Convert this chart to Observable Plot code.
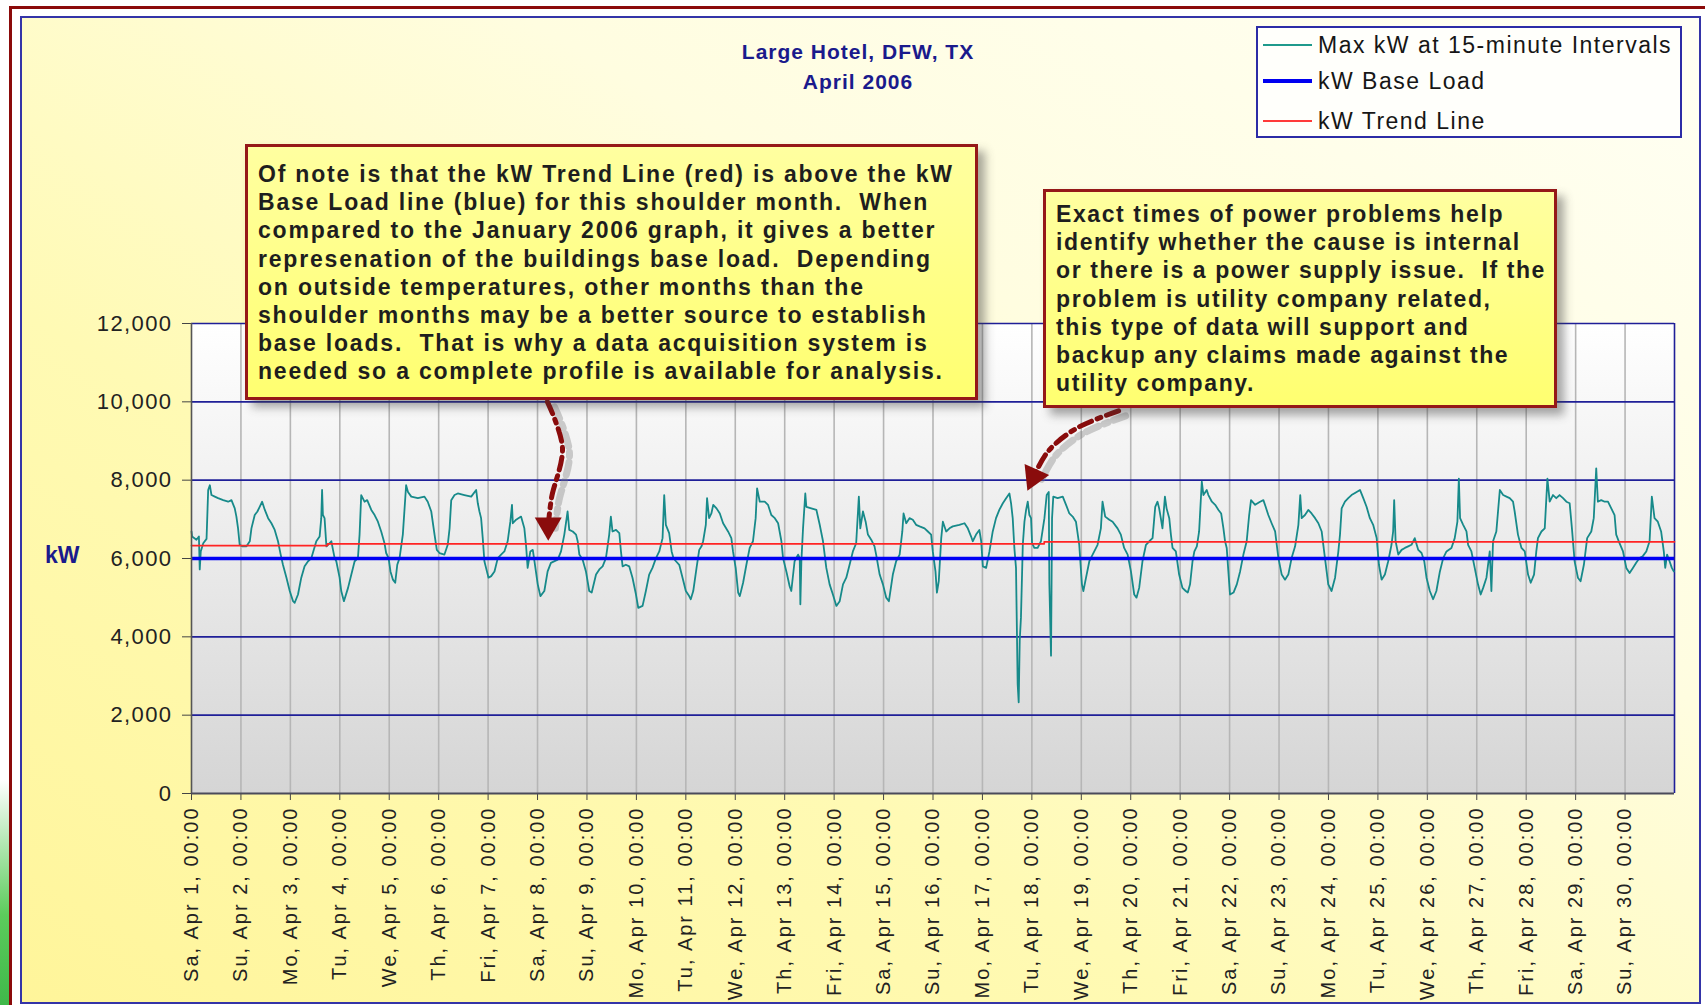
<!DOCTYPE html>
<html>
<head>
<meta charset="utf-8">
<script src="https://cdn.jsdelivr.net/npm/d3@7"></script>
<script src="https://cdn.jsdelivr.net/npm/@observablehq/plot@0.6"></script>
<style>
  html, body { margin: 0; padding: 0; background: #ffffff; }
  #page { position: relative; width: 1705px; height: 1005px; overflow: hidden; background: #ffffff;
          font-family: "Liberation Sans", Arial, sans-serif; }
  #green { position: absolute; left: 0; top: 780px; width: 10px; height: 225px;
           background: linear-gradient(to bottom, #ffffff, #5ccc5c 60%, #3fb84a); }
  #redframe { position: absolute; left: 9px; top: 6px; width: 1720px; height: 1020px;
              border-top: 3px solid #8b0a0a; border-left: 3px solid #8b0a0a; box-sizing: border-box; }
  #inner { position: absolute; left: 20px; top: 16px; width: 1681px; height: 988px; box-sizing: border-box;
           border: 2px solid #3434a8;
           background: linear-gradient(to top right, #fff59a 0%, #fffab4 35%, #fffde0 65%, #fffff4 100%); }
  #chart { position: absolute; left: 0; top: 0; }
  .title { position: absolute; left: 658px; width: 400px; text-align: center; color: #1a1a8c;
           font-weight: bold; font-size: 21px; letter-spacing: 1px; white-space: nowrap; }
  .kwlabel { position: absolute; left: 45px; top: 542px; color: #1a1a8c; font-weight: bold; font-size: 23px; }
  .note { position: absolute; box-sizing: border-box; border: 3px solid #951818;
          background: linear-gradient(to bottom, #ffffa0, #ffff70);
          box-shadow: 7px 7px 9px rgba(60,60,60,0.45);
          color: #1e1e1e; font-weight: bold; font-size: 23px; letter-spacing: 1.6px;
          line-height: 28.2px; white-space: pre; z-index: 3; }
  #legend { position: absolute; left: 1256px; top: 26px; width: 426px; height: 112px; box-sizing: border-box;
            border: 2px solid #2c2ca6; background: #fffffb; z-index: 3; }
  .lg { position: absolute; left: 60px; font-size: 23px; letter-spacing: 1.5px; color: #161616; white-space: nowrap; }
  .sw { position: absolute; left: 5px; width: 49px; }
  svg g[aria-label="y-axis tick label"] text { letter-spacing: 1.4px; fill: #222; }
  svg g[aria-label="x-axis tick label"] text { letter-spacing: 2px; fill: #222; }
</style>
</head>
<body>
<div id="page">
  <div id="green"></div>
  <div id="redframe"></div>
  <div id="inner"></div>
  <div id="chart"></div>
  <div class="title" style="top:40px">Large Hotel, DFW, TX</div>
  <div class="title" style="top:70px">April 2006</div>
  <div class="kwlabel">kW</div>
  <div class="note" style="left:245px;top:144px;width:733px;height:256px;padding:13px 0 0 10px;letter-spacing:1.8px"></div>
  <div class="note" style="left:1043px;top:189px;width:514px;height:219px;padding:8px 0 0 10px"></div>
  <div id="legend"></div>
</div>
<script>
// ---------- data ----------
const titleLines = ["Large Hotel, DFW, TX", "April 2006"];
const seriesNames = ["Max kW at 15-minute Intervals", "kW Base Load", "kW Trend Line"];

const dayLabels = [
  "Sa, Apr 1, 00:00", "Su, Apr 2, 00:00", "Mo, Apr 3, 00:00", "Tu, Apr 4, 00:00", "We, Apr 5, 00:00",
  "Th, Apr 6, 00:00", "Fri, Apr 7, 00:00", "Sa, Apr 8, 00:00", "Su, Apr 9, 00:00", "Mo, Apr 10, 00:00",
  "Tu, Apr 11, 00:00", "We, Apr 12, 00:00", "Th, Apr 13, 00:00", "Fri, Apr 14, 00:00", "Sa, Apr 15, 00:00",
  "Su, Apr 16, 00:00", "Mo, Apr 17, 00:00", "Tu, Apr 18, 00:00", "We, Apr 19, 00:00", "Th, Apr 20, 00:00",
  "Fri, Apr 21, 00:00", "Sa, Apr 22, 00:00", "Su, Apr 23, 00:00", "Mo, Apr 24, 00:00", "Tu, Apr 25, 00:00",
  "We, Apr 26, 00:00", "Th, Apr 27, 00:00", "Fri, Apr 28, 00:00", "Sa, Apr 29, 00:00", "Su, Apr 30, 00:00"
];
const dayTicks = [0,24,48,72,96,120,144,168,192,216,240,264,288,312,336,360,384,408,432,456,480,504,528,552,576,600,624,648,672,696];
const yTicks = [0, 2000, 4000, 6000, 8000, 10000, 12000];
const hoursInMonth = 720;
const kwMax = 12000;

// [hours since Apr 1 00:00, max kW]
const kwApr1to10 = [
  [0,6690],[0.3,6560],[2.4,6480],[3.6,6560],[4.0,5720],[4.5,6180],[5.7,6390],[7.3,6500],[8.1,7750],[8.9,7870],
  [9.7,7620],[11.3,7580],[12.9,7540],[15.4,7490],[17.8,7450],[19.4,7490],[21.0,7280],[21.8,7070],[22.6,6770],[23.4,6350],
  [24.6,6310],[26.7,6310],[28.3,6440],[29.1,6770],[30.7,7110],[32.0,7200],[33.1,7320],[34.3,7450],[35.6,7240],[37.2,7030],
  [38.8,6900],[40.4,6730],[42.0,6440],[43.3,6100],[44.4,5840],[46.1,5510],[47.7,5170],[49.3,4910],[50.1,4870],[51.7,5080],
  [53.3,5510],[54.9,5800],[56.6,5930],[58.2,6010],[60.6,6440],[62.2,6560],[63.0,7030],[63.4,7750],[63.8,7110],[64.6,7030],
  [65.5,6310],[66.3,6350],[67.9,6440],[68.7,6220],[69.5,6010],[70.3,5930],[71.9,5510],[72.7,5170],[74.0,4910],[76.0,5250],
  [77.6,5590],[79.2,5930],[80.8,6010],[81.6,6610],[82.4,7620],[84.0,7450],[85.3,7490],[87.3,7240],[88.9,7110],[90.5,6940],
  [92.1,6690],[93.7,6390],[94.5,6140],[95.7,6010],[96.6,5670],[97.8,5460],[98.9,5380],[99.9,5840],[101.0,6010],[102.6,6610],
  [104.2,7870],[105.1,7700],[106.7,7580],[109.9,7540],[113.1,7580],[114.7,7450],[116.4,7200],[118.0,6610],[119.1,6220],[120.4,6140],
  [122.8,6100],[124.4,6350],[125.3,6770],[126.1,7490],[127.7,7620],[129.3,7660],[132.5,7620],[135.8,7580],[138.2,7750],[139.0,7410],
  [139.8,7200],[140.6,7030],[141.4,6520],[142.2,5930],[143.0,5760],[144.2,5510],[145.5,5550],[147.1,5670],[148.7,6010],[150.3,6100],
  [151.9,6180],[153.5,6440],[154.8,6940],[155.6,7370],[156.0,6900],[157.6,6990],[160.0,7070],[161.6,6770],[162.4,6350],[163.2,5760],
  [164.5,6180],[165.7,6220],[166.5,5930],[168.1,5340],[169.4,5040],[171.3,5170],[172.9,5670],[174.5,5890],[177.8,5970],[179.4,6180],
  [181.0,6610],[182.6,7200],[183.4,6730],[185.1,6690],[186.7,6610],[187.5,6440],[188.3,6100],[189.9,5970],[191.5,5670],[193.1,5170],
  [194.3,5130],[196.4,5590],[198.0,5720],[199.6,5800],[201.2,6010],[202.8,6610],[203.6,7070],[204.4,6690],[206.1,6730],[207.7,6650],
  [208.5,6180],[209.3,5800],[210.9,5840],[212.5,5800],[214.1,5510],[215.8,5080],[216.9,4740],[219.0,4790],[220.6,5170],[222.2,5590],
  [223.8,5760],[225.5,6010],[227.1,6180],[228.7,6520],[229.5,7620],[230.3,6860],[231.9,6650],[233.1,6180],[234.0,6010],[235.2,5930],
  [236.8,5840],[238.4,5510],[240.0,5170]
];
const kwApr11to20 = [
  [241.6,5040],[242.4,4960],[243.6,5170],[245.2,5760],[246.5,6220],[247.6,6310],[248.4,6440],[249.7,6860],[250.3,7540],[251.3,7030],
  [252.4,7150],[253.3,7370],[254.9,7280],[256.5,7150],[258.1,6900],[260.5,6690],[262.1,6520],[262.9,6180],[264.2,5760],[265.4,5130],
  [266.2,5040],[267.8,5380],[269.4,5840],[271.0,6270],[272.6,6440],[273.9,7030],[274.6,7790],[275.9,7450],[278.3,7450],[279.9,7370],
  [281.5,7110],[283.2,7030],[284.8,6900],[286.4,6440],[287.2,6010],[288.8,5670],[290.4,5290],[291.2,5170],[292.8,5930],[294.5,6100],
  [295.3,6010],[295.6,4830],[296.1,5930],[296.9,6770],[298.0,7660],[298.5,7320],[300.9,7280],[303.4,7240],[305.0,6860],[306.6,6440],
  [308.2,5760],[309.8,5340],[311.4,5080],[313.1,4790],[314.7,4910],[316.3,5340],[317.9,5510],[319.5,5840],[321.1,6180],[322.7,6390],
  [324.0,7580],[324.7,6770],[326.0,7200],[327.3,6940],[328.4,6610],[330.0,6480],[331.6,6310],[332.4,6100],[334.1,5590],[335.7,5340],
  [337.3,5000],[338.6,4910],[340.5,5590],[342.1,5930],[343.8,6100],[345.1,6690],[345.7,7150],[347.0,6900],[348.6,7030],[350.2,6990],
  [351.8,6860],[353.5,6820],[355.9,6770],[357.5,6690],[359.1,6610],[359.9,6180],[361.2,5670],[361.9,5130],[362.8,5420],[364.0,6520],
  [364.8,6940],[366.4,6690],[368.0,6770],[369.6,6820],[372.8,6860],[375.3,6900],[376.9,6770],[378.5,6560],[379.3,6440],[380.9,6610],
  [382.5,6730],[383.4,6440],[384.2,5800],[385.8,5760],[387.4,6180],[389.0,6690],[390.6,7030],[392.2,7240],[393.9,7410],[395.5,7540],
  [397.1,7660],[397.9,7410],[398.7,7030],[399.5,6270],[400.3,5760],[400.6,4660],[401.1,2800],[401.6,2330],[402.1,3900],[402.7,4490],
  [403.6,6350],[404.4,6940],[405.2,7240],[406.0,7450],[406.8,7110],[407.6,7030],[408.1,6390],[409.2,6270],[410.8,6270],[412.4,6440],
  [414.1,7030],[415.2,7620],[416.2,7700],[416.5,5340],[417.3,3520],[417.8,7030],[418.4,7580],[420.5,7540],[423.0,7580],[424.6,7370],
  [426.2,7150],[427.8,7070],[429.4,6940],[431.0,6350],[432.3,5340],[433.0,5170],[434.3,5510],[435.9,5930],[437.5,6100],[439.9,6350],
  [441.5,6770],[442.3,7450],[443.6,7070],[445.6,6990],[447.2,6940],[449.6,6770],[451.2,6610],[452.8,6270],[454.5,6100],[456.1,5670],
  [457.7,5080],[458.8,5000],[460.1,5250],[461.7,5930],[463.4,6350],[465.0,6440],[466.6,6520],[467.9,7320],[469.0,7450],[469.8,7280],
  [470.6,7030],[471.4,6770],[472.6,7580],[473.4,7280],[474.7,7030],[475.5,6610],[476.3,6270],[477.9,6180],[479.5,5590],[481.1,5250],
  [482.7,5170]
];
const kwApr21to30 = [
  [483.7,5130],[484.8,5340],[486.0,5930],[486.9,6180],[488.1,6310],[489.2,6690],[490.5,7960],[491.3,7620],[492.9,7750],[493.7,7620],
  [495.4,7450],[497.0,7370],[498.6,7240],[499.9,7150],[501.0,6770],[501.8,6440],[502.6,6270],[503.4,5670],[504.2,5080],[505.9,5130],
  [507.5,5340],[509.1,5670],[510.7,6100],[512.3,6440],[513.5,7110],[514.4,7490],[516.4,7370],[518.8,7450],[520.4,7490],[521.5,7320],
  [522.8,7110],[524.4,6900],[526.1,6690],[526.9,6350],[527.7,6010],[529.3,5590],[530.9,5460],[532.5,5590],[534.1,6010],[535.8,6310],
  [537.4,6860],[538.3,7620],[539.0,7030],[540.6,7110],[542.2,7240],[543.8,7150],[545.5,7030],[547.1,6900],[548.7,6690],[549.5,6350],
  [550.3,6010],[551.9,5340],[553.5,5170],[555.2,5510],[556.8,6180],[557.6,6610],[558.4,7280],[560.0,7450],[561.6,7540],[563.2,7620],
  [565.7,7700],[567.3,7750],[568.9,7540],[570.5,7320],[572.1,7030],[573.7,6860],[575.4,6520],[576.5,5840],[577.8,5460],[579.4,5590],
  [581.0,5930],[582.6,6350],[583.4,6690],[583.9,7490],[584.6,6440],[585.9,6100],[587.5,6220],[589.1,6270],[590.7,6310],[592.3,6350],
  [593.9,6520],[595.6,6220],[597.2,6140],[598.5,5930],[599.6,5510],[601.2,5170],[602.8,4960],[604.4,5170],[606.1,5670],[607.7,6010],
  [609.3,6180],[611.7,6270],[613.3,6520],[614.6,6940],[615.3,8040],[615.9,7030],[617.4,6860],[619.0,6690],[619.8,6350],[621.4,6180],
  [623.0,5760],[624.6,5340],[625.9,5080],[627.1,5250],[628.7,5510],[630.3,6180],[631.1,5170],[631.9,6440],[633.5,6690],[635.2,7750],
  [636.8,7620],[638.4,7580],[640.0,7540],[641.6,7450],[642.4,7200],[644.0,6610],[645.7,6270],[647.3,6180],[648.9,5590],[650.2,5380],
  [651.8,5590],[652.9,6180],[653.7,6520],[655.4,6690],[657.0,6770],[658.3,8040],[659.4,7450],[661.0,7620],[662.6,7540],[664.2,7620],
  [665.9,7540],[667.5,7450],[669.1,7410],[670.2,6770],[671.5,5930],[673.1,5510],[674.4,5420],[676.0,5840],[677.6,6520],[679.6,6690],
  [680.8,7030],[682.0,8300],[682.8,7450],[684.4,7490],[686.1,7450],[687.7,7450],[689.3,7280],[690.9,7110],[691.7,6610],[693.3,6390],
  [695.0,6180],[696.6,5760],[698.2,5630],[699.8,5760],[701.4,5890],[703.0,6010],[704.6,6060],[706.3,6180],[707.9,6440],[709.0,7580],
  [710.3,7030],[711.9,6940],[713.5,6690],[714.8,6180],[715.5,5760],[716.4,6100],[717.6,5930],[718.7,5760],[719.7,5670]
];
const baseLoadKw = 6000;
// trend line steps [hours, kW]
const trendSteps = [[0,6330],[66,6375],[414,6425],[720,6425]];

// annotation arrow paths in chart coordinates [hours, kW]
const arrow1Path = [[172.8,10000],[180.1,8830],[174.8,7550],[173.3,6900]];
const arrow1Head = [[173.2,6850]];
const arrow2Path = [[450.1,9770],[429.2,9310],[416.1,8750],[409.4,8150]];
const arrow2Head = [[408.9,8090]];

const note1Lines = [
  "Of note is that the kW Trend Line (red) is above the kW",
  "Base Load line (blue) for this shoulder month.  When",
  "compared to the January 2006 graph, it gives a better",
  "represenation of the buildings base load.  Depending",
  "on outside temperatures, other months than the",
  "shoulder months may be a better source to establish",
  "base loads.  That is why a data acquisition system is",
  "needed so a complete profile is available for analysis."
];
const note2Lines = [
  "Exact times of power problems help",
  "identify whether the cause is internal",
  "or there is a power supply issue.  If the",
  "problem is utility company related,",
  "this type of data will support and",
  "backup any claims made against the",
  "utility company."
];

// ---------- chart ----------
const readings = [...kwApr1to10, ...kwApr11to20, ...kwApr21to30];

function plotBackground(index, scales) {
  const g = d3.create("svg:g");
  const grad = g.append("defs").append("linearGradient")
    .attr("id", "plotbg").attr("x1", 0).attr("x2", 0).attr("y1", 0).attr("y2", 1);
  grad.append("stop").attr("offset", "0%").attr("stop-color", "#ffffff");
  grad.append("stop").attr("offset", "100%").attr("stop-color", "#d5d5d5");
  const x0 = scales.x(0), x1 = scales.x(hoursInMonth), y0 = scales.y(kwMax), y1 = scales.y(0);
  g.append("rect").attr("x", x0).attr("y", y0).attr("width", x1 - x0).attr("height", y1 - y0)
    .attr("fill", "url(#plotbg)");
  return g.node();
}

const arrowColor = "#8a0c0c";
const dash = "13,6,4,6";

const chart = Plot.plot({
  width: 1705,
  height: 1005,
  marginLeft: 191,
  marginRight: 31,
  marginTop: 323,
  marginBottom: 212,
  style: { background: "transparent", fontFamily: "'Liberation Sans', Arial, sans-serif", overflow: "visible" },
  x: { type: "linear", domain: [0, hoursInMonth] },
  y: { domain: [0, kwMax] },
  marks: [
    plotBackground,
    Plot.ruleX(dayTicks.slice(1), { stroke: "#b6b6b6", strokeWidth: 1.6 }),
    Plot.ruleY(yTicks.slice(1), { stroke: "#1f1f98", strokeWidth: 1.6 }),
    Plot.ruleX([hoursInMonth], { stroke: "#1f1f98", strokeWidth: 1.6 }),
    Plot.line(readings, { x: d => d[0], y: d => d[1], stroke: "#178a8a", strokeWidth: 1.8 }),
    Plot.ruleY([baseLoadKw], { stroke: "#0000f5", strokeWidth: 3.5 }),
    Plot.line(trendSteps, { x: d => d[0], y: d => d[1], curve: "step-after", stroke: "#ff2424", strokeWidth: 1.7 }),
    Plot.axisY({ ticks: yTicks, tickFormat: d3.format(","), tickSize: 9, tickPadding: 10, fontSize: 22, label: null, stroke: "#444" }),
    Plot.axisX({ ticks: dayTicks, tickFormat: d => dayLabels[Math.round(d / 24)], tickRotate: -90,
                 tickSize: 7, tickPadding: 6, fontSize: 20, label: null, stroke: "#444" }),
    Plot.ruleX([0], { stroke: "#555", strokeWidth: 1.6 }),
    Plot.ruleY([0], { stroke: "#4a4a5a", strokeWidth: 2 }),
    // arrow shadows
    Plot.line(arrow1Path, { x: d => d[0], y: d => d[1], curve: "catmull-rom", stroke: "#777", strokeOpacity: 0.35,
                            strokeWidth: 7, dx: 7, dy: 5, strokeDasharray: dash }),
    Plot.line(arrow2Path, { x: d => d[0], y: d => d[1], curve: "catmull-rom", stroke: "#777", strokeOpacity: 0.35,
                            strokeWidth: 7, dx: 7, dy: 5, strokeDasharray: dash }),
    // arrows
    Plot.line(arrow1Path, { x: d => d[0], y: d => d[1], curve: "catmull-rom", stroke: arrowColor,
                            strokeWidth: 5, strokeDasharray: dash }),
    Plot.dot(arrow1Head, { x: d => d[0], y: d => d[1], symbol: "triangle", r: 10, fill: arrowColor, stroke: "none", rotate: 180 }),
    Plot.line(arrow2Path, { x: d => d[0], y: d => d[1], curve: "catmull-rom", stroke: arrowColor,
                            strokeWidth: 5, strokeDasharray: dash }),
    Plot.dot(arrow2Head, { x: d => d[0], y: d => d[1], symbol: "triangle", r: 10, fill: arrowColor, stroke: "none", rotate: 204 })
  ]
});
document.getElementById("chart").appendChild(chart);

// titles & notes
const titles = document.querySelectorAll(".title");
titles[0].textContent = titleLines[0];
titles[1].textContent = titleLines[1];
const notes = document.querySelectorAll(".note");
notes[0].textContent = note1Lines.join("\n");
notes[1].textContent = note2Lines.join("\n");

// legend
const legend = document.getElementById("legend");
const legendStyles = [
  { color: "#1f9a8c", width: 2 },
  { color: "#0000f0", width: 4 },
  { color: "#ff3a3a", width: 2 }
];
const rowTop = [4, 40, 80];
seriesNames.forEach((name, i) => {
  const sw = document.createElement("div");
  sw.className = "sw";
  sw.style.top = (rowTop[i] + 13 - legendStyles[i].width / 2) + "px";
  sw.style.height = legendStyles[i].width + "px";
  sw.style.background = legendStyles[i].color;
  legend.appendChild(sw);
  const t = document.createElement("div");
  t.className = "lg";
  t.style.top = rowTop[i] + "px";
  t.textContent = name;
  legend.appendChild(t);
});
</script>
</body>
</html>
